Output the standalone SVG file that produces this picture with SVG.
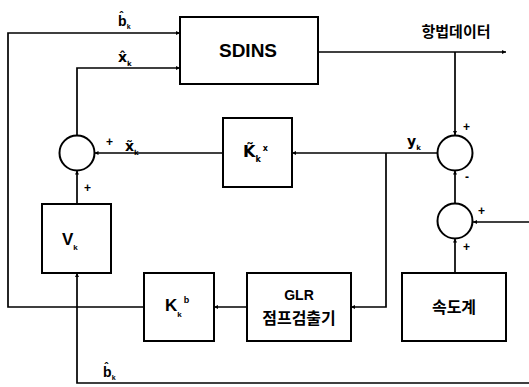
<svg xmlns="http://www.w3.org/2000/svg" width="529" height="387" viewBox="0 0 529 387">
<style>
.box{fill:#fff;stroke:#000;stroke-width:2}
.sum{fill:#fff;stroke:#000;stroke-width:2}
.ln{fill:none;stroke:#000;stroke-width:1.7}
.t{font-family:"Liberation Sans",Arial,sans-serif;font-weight:bold;fill:#000}
.m{font-family:"DejaVu Sans","Liberation Sans",sans-serif;font-weight:bold;fill:#000}
.kr{font-family:"Noto Sans CJK KR","Liberation Sans",sans-serif;font-weight:bold;fill:#000}
</style>
<defs>
<marker id="ah" viewBox="0 0 8 8" refX="8" refY="4" markerWidth="4" markerHeight="4" orient="auto" markerUnits="userSpaceOnUse">
<path d="M0,0 L8,4 L0,8 z" fill="#000"/>
</marker>
</defs>
<rect width="529" height="387" fill="#fff"/>
<g id="connectors">
<path class="ln" d="M144,307 H8 V33 H180" marker-end="url(#ah)"/>
<path class="ln" d="M77,135 V68 H180" marker-end="url(#ah)"/>
<path class="ln" d="M318,52 H506" marker-end="url(#ah)"/>
<path class="ln" d="M455,52 V135" marker-end="url(#ah)"/>
<path class="ln" d="M437,153 H292" marker-end="url(#ah)"/>
<path class="ln" d="M223,153 H94.5" marker-end="url(#ah)"/>
<path class="ln" d="M77,204 V170.5" marker-end="url(#ah)"/>
<path class="ln" d="M455,203.5 V170.5" marker-end="url(#ah)"/>
<path class="ln" d="M529,222 H473" marker-end="url(#ah)"/>
<path class="ln" d="M455,273 V238.5" marker-end="url(#ah)"/>
<path class="ln" d="M386,153 V307 H351" marker-end="url(#ah)"/>
<path class="ln" d="M247,307 H214" marker-end="url(#ah)"/>
<path class="ln" d="M529,383 H77 V273" marker-end="url(#ah)"/>
</g>
<g id="sdins"><rect class="box" x="180" y="17" width="138" height="67"/><text class="t" x="248" y="57" font-size="19" text-anchor="middle">SDINS</text></g>
<g id="kx"><rect class="box" x="223" y="118" width="69" height="69"/><text class="m" x="243" y="157" font-size="16">K̃<tspan font-size="8" dy="5">k</tspan><tspan font-size="8" dx="2" dy="-11">x</tspan></text></g>
<g id="sum1"><circle class="sum" cx="77" cy="153" r="17.5"/></g>
<g id="sum2"><circle class="sum" cx="455" cy="153" r="17.5"/></g>
<g id="sum3"><circle class="sum" cx="455" cy="221" r="17.5"/></g>
<g id="vk"><rect class="box" x="42" y="204" width="69" height="69"/><text class="t" x="62" y="245" font-size="17">V<tspan font-size="8" dy="5">k</tspan></text></g>
<g id="kb"><rect class="box" x="144" y="273" width="70" height="68"/><text class="t" x="165" y="311" font-size="17">K<tspan font-size="8" dy="6">k</tspan><tspan font-size="9" dx="2" dy="-14">b</tspan></text></g>
<g id="glr"><rect class="box" x="247" y="273" width="104" height="68"/><text class="t" x="299" y="300" font-size="14" text-anchor="middle">GLR</text><text class="kr" x="299" y="324" font-size="16" text-anchor="middle">점프검출기</text></g>
<g id="speed"><rect class="box" x="402" y="273" width="104" height="68"/><text class="kr" x="454" y="313" font-size="16" text-anchor="middle">속도계</text></g>
<g id="labels">
<text class="kr" x="456" y="37" font-size="15" text-anchor="middle">항법데이터</text>
<text class="t" x="118" y="26" font-size="14">b<tspan font-size="11" dx="-7" dy="-7">ˆ</tspan><tspan font-size="7" dx="3.5" dy="10">k</tspan></text>
<text class="m" x="118" y="62" font-size="14">x̂<tspan font-size="7" dy="4">k</tspan></text>
<text class="t" x="106" y="146" font-size="12">+</text>
<text class="m" x="125" y="151" font-size="14">x̃<tspan font-size="7" dy="4">k</tspan></text>
<text class="t" x="84" y="192" font-size="12">+</text>
<text class="m" x="407" y="146" font-size="14">y<tspan font-size="7" dy="4">k</tspan></text>
<text class="t" x="463" y="131" font-size="12">+</text>
<text class="t" x="465" y="181" font-size="12">-</text>
<text class="t" x="478" y="215" font-size="12">+</text>
<text class="t" x="463" y="251" font-size="12">+</text>
<text class="t" x="103" y="377" font-size="14">b<tspan font-size="11" dx="-7" dy="-7">ˆ</tspan><tspan font-size="7" dx="3.5" dy="10">k</tspan></text>
</g>
</svg>
